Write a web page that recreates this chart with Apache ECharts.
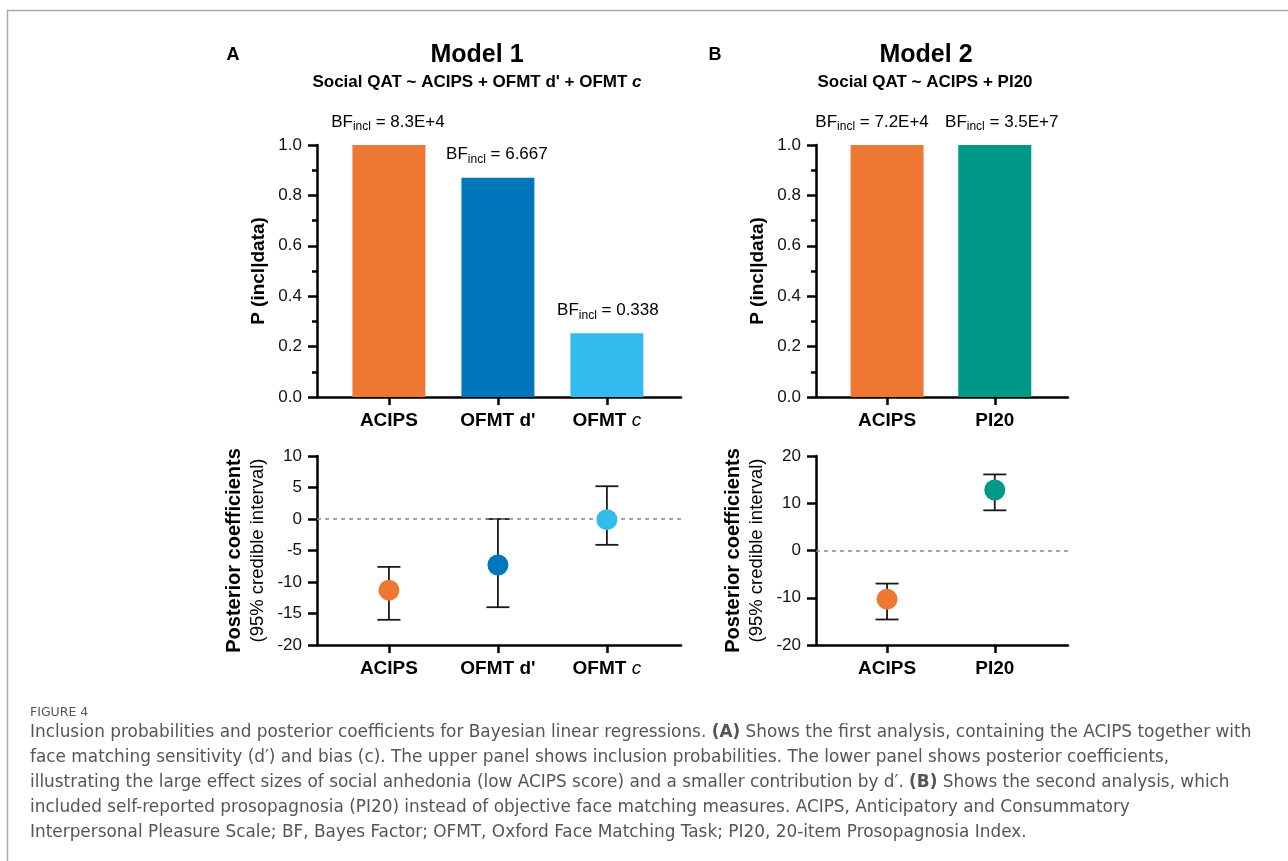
<!DOCTYPE html>
<html>
<head>
<meta charset="utf-8">
<script src="https://cdn.jsdelivr.net/npm/echarts@6/dist/echarts.min.js"></script>
<style>
html,body{margin:0;padding:0;background:#fff;}
#c{width:1288px;height:861px;}
</style>
</head>
<body>
<div id="c"></div>
<script>
// ---- data ----
const m1Cats = ['ACIPS', "OFMT d'", 'OFMT c'];
const m1Prob = [1.0, 0.87, 0.253];
const m1BF = ['8.3E+4', '6.667', '0.338'];
const m1Coef = [-11.3, -7.3, -0.1];
const m1Lo = [-16.0, -14.0, -4.1];
const m1Hi = [-7.6, 0.0, 5.2];

const m2Cats = ['ACIPS', 'PI20'];
const m2Prob = [1.0, 1.0];
const m2BF = ['7.2E+4', '3.5E+7'];
const m2Coef = [-10.3, 12.8];
const m2Lo = [-14.6, 8.5];
const m2Hi = [-7.0, 16.1];

const m1Colors = ['#EE7733', '#0077BB', '#33BBEE'];
const m2Colors = ['#EE7733', '#009988'];

const captionLines = [
  '{n|Inclusion probabilities and posterior coefficients for Bayesian linear regressions. }{b|(A)}{n| Shows the first analysis, containing the ACIPS together with}',
  '{n|face matching sensitivity (d\u2032) and bias (c). The upper panel shows inclusion probabilities. The lower panel shows posterior coefficients,}',
  '{n|illustrating the large effect sizes of social anhedonia (low ACIPS score) and a smaller contribution by d\u2032. }{b|(B)}{n| Shows the second analysis, which}',
  '{n|included self-reported prosopagnosia (PI20) instead of objective face matching measures. ACIPS, Anticipatory and Consummatory}',
  '{n|Interpersonal Pleasure Scale; BF, Bayes Factor; OFMT, Oxford Face Matching Task; PI20, 20-item Prosopagnosia Index.}'
];

// ---- helpers ----
const FONT = "'Liberation Sans', Arial, sans-serif";
const CAPFONT = "'DejaVu Sans', 'Open Sans', sans-serif";

function catLabel(cats) {
  return function (v) {
    const c = cats[Math.round(v)];
    if (c === 'OFMT c') return '{b|OFMT }{i|c}';
    return '{b|' + c + '}';
  };
}
const catRich = {
  b: {fontFamily: FONT, fontSize: 19, fontWeight: 'bold', color: '#000'},
  i: {fontFamily: FONT, fontSize: 19, fontStyle: 'italic', color: '#000'}
};

function xAxisFor(gi, cats) {
  const idx = cats.map((_, i) => i);
  return {
    type: 'value', gridIndex: gi, min: -0.66, max: cats.length - 1 + 0.68,
    splitLine: {show: false},
    axisLine: {show: true, onZero: false, lineStyle: {color: '#000', width: 2.5}},
    axisTick: {show: true, customValues: idx, length: 8, lineStyle: {color: '#000', width: 2.5}},
    axisLabel: {show: true, customValues: idx, margin: 14, formatter: catLabel(cats), rich: catRich}
  };
}

function yAxisFor(gi, min, max, interval, fmt, minor, name, nameGap, nameStyle) {
  return {
    type: 'value', gridIndex: gi, min: min, max: max, interval: interval,
    splitLine: {show: false},
    axisLine: {show: true, onZero: false, lineStyle: {color: '#000', width: 2.5}},
    axisTick: {show: true, length: 9, lineStyle: {color: '#000', width: 2.5}},
    minorTick: {show: minor, splitNumber: 2, length: 5, lineStyle: {color: '#000', width: 2.5}},
    axisLabel: {fontFamily: FONT, fontSize: 17, color: '#111', margin: 15, formatter: fmt},
    name: name, nameLocation: 'middle', nameGap: nameGap, nameTextStyle: nameStyle
  };
}

const probName = {fontFamily: FONT, fontSize: 19, fontWeight: 'bold', color: '#000'};
const coefNameStr = '{a|Posterior coefficients}\n{b|(95% credible interval)}';
const coefName = {
  rich: {
    a: {fontFamily: FONT, fontSize: 20, fontWeight: 'bold', color: '#000', lineHeight: 24},
    b: {fontFamily: FONT, fontSize: 18.5, color: '#000', lineHeight: 24}
  }
};

const bfRich = {
  a: {fontFamily: FONT, fontSize: 17, color: '#000', lineHeight: 22},
  s: {fontFamily: FONT, fontSize: 12, color: '#000', lineHeight: 12, padding: [10, 0, 0, 0]}
};

function barSeries(gi, probs, bfs, colors, offsets) {
  return {
    type: 'bar', xAxisIndex: gi, yAxisIndex: gi, barWidth: 73,
    data: probs.map((p, i) => ({
      value: [i, p],
      itemStyle: {color: colors[i]},
      label: {offset: offsets[i]}
    })),
    label: {
      show: true, position: 'top', distance: 12,
      formatter: (p) => '{a|BF}{s|incl}{a| = ' + bfs[p.dataIndex] + '}',
      rich: bfRich
    }
  };
}

function errSeries(gi, lo, hi) {
  return {
    type: 'custom', xAxisIndex: gi, yAxisIndex: gi, z: 2,
    data: lo.map((l, i) => [i, l, hi[i]]),
    renderItem: function (params, api) {
      const x = api.value(0);
      const pl = api.coord([x, api.value(1)]);
      const ph = api.coord([x, api.value(2)]);
      const hw = 11.5;
      const st = {stroke: '#1a1a1a', lineWidth: 1.8};
      return {
        type: 'group',
        children: [
          {type: 'line', shape: {x1: pl[0], y1: pl[1], x2: ph[0], y2: ph[1]}, style: st},
          {type: 'line', shape: {x1: pl[0] - hw, y1: pl[1], x2: pl[0] + hw, y2: pl[1]}, style: st},
          {type: 'line', shape: {x1: ph[0] - hw, y1: ph[1], x2: ph[0] + hw, y2: ph[1]}, style: st}
        ]
      };
    },
    markLine: {
      silent: true, symbol: ['none', 'none'], label: {show: false},
      lineStyle: {type: [4, 4], color: '#8a8a8a', width: 1.5},
      data: [{yAxis: 0}]
    }
  };
}

function ptSeries(gi, coef, colors) {
  return {
    type: 'scatter', xAxisIndex: gi, yAxisIndex: gi, z: 5, symbolSize: 21,
    data: coef.map((c, i) => ({value: [i, c], itemStyle: {color: colors[i], opacity: 1}}))
  };
}

const graphics = [
  // frame
  {type: 'line', shape: {x1: 7, y1: 10.5, x2: 1288, y2: 10.5}, style: {stroke: '#aaaaaa', lineWidth: 1.5}},
  {type: 'line', shape: {x1: 7.5, y1: 10, x2: 7.5, y2: 861}, style: {stroke: '#aaaaaa', lineWidth: 1.5}},
  // panel letters and titles
  {type: 'text', style: {x: 233, y: 55, text: 'A', font: 'bold 18px ' + FONT, fill: '#000', textAlign: 'center', textVerticalAlign: 'middle'}},
  {type: 'text', style: {x: 715, y: 55, text: 'B', font: 'bold 18px ' + FONT, fill: '#000', textAlign: 'center', textVerticalAlign: 'middle'}},
  {type: 'text', style: {x: 477, y: 55, text: 'Model 1', font: 'bold 25px ' + FONT, fill: '#000', textAlign: 'center', textVerticalAlign: 'middle'}},
  {type: 'text', style: {x: 926, y: 55, text: 'Model 2', font: 'bold 25px ' + FONT, fill: '#000', textAlign: 'center', textVerticalAlign: 'middle'}},
  {type: 'text', style: {x: 477, y: 82, text: "{b|Social QAT ~ ACIPS + OFMT d' + OFMT }{i|c}", textAlign: 'center', textVerticalAlign: 'middle',
    rich: {b: {fontFamily: FONT, fontSize: 17, fontWeight: 'bold', fill: '#000'}, i: {fontFamily: FONT, fontSize: 17, fontWeight: 'bold', fontStyle: 'italic', fill: '#000'}}}},
  {type: 'text', style: {x: 925, y: 82, text: 'Social QAT ~ ACIPS + PI20', font: 'bold 17px ' + FONT, fill: '#000', textAlign: 'center', textVerticalAlign: 'middle'}},
  // caption
  {type: 'text', style: {x: 30, y: 713, text: 'FIGURE 4', font: '12.5px ' + CAPFONT, fill: '#555', textVerticalAlign: 'middle'}}
];
captionLines.forEach((ln, k) => {
  graphics.push({type: 'text', style: {x: 30, y: 733 + k * 25, text: ln, textVerticalAlign: 'middle',
    rich: {n: {fontFamily: CAPFONT, fontSize: 16.9, fill: '#555'}, b: {fontFamily: CAPFONT, fontSize: 16.9, fontWeight: 'bold', fill: '#555'}}}});
});

const option = {
  animation: false,
  backgroundColor: '#fff',
  grid: [
    {left: 317, top: 145, width: 364, height: 252},
    {left: 816, top: 145, width: 252, height: 252},
    {left: 317, top: 456, width: 364, height: 189},
    {left: 816, top: 456, width: 252, height: 189}
  ],
  xAxis: [xAxisFor(0, m1Cats), xAxisFor(1, m2Cats), xAxisFor(2, m1Cats), xAxisFor(3, m2Cats)],
  yAxis: [
    yAxisFor(0, 0, 1, 0.2, (v) => v.toFixed(1), true, 'P (incl|data)', 49, probName),
    yAxisFor(1, 0, 1, 0.2, (v) => v.toFixed(1), true, 'P (incl|data)', 49, probName),
    yAxisFor(2, -20, 10, 5, (v) => String(v), false, coefNameStr, 47, coefName),
    yAxisFor(3, -20, 20, 10, (v) => String(v), false, coefNameStr, 47, coefName)
  ],
  series: [
    barSeries(0, m1Prob, m1BF, m1Colors, [[-1, 0], [-1, 0], [1, 0]]),
    barSeries(1, m2Prob, m2BF, m2Colors, [[-15, 0], [7, 0]]),
    errSeries(2, m1Lo, m1Hi),
    ptSeries(2, m1Coef, m1Colors),
    errSeries(3, m2Lo, m2Hi),
    ptSeries(3, m2Coef, m2Colors)
  ],
  graphic: graphics
};

const chart = echarts.init(document.getElementById('c'), null, {renderer: 'canvas'});
chart.setOption(option);
</script>
</body>
</html>
